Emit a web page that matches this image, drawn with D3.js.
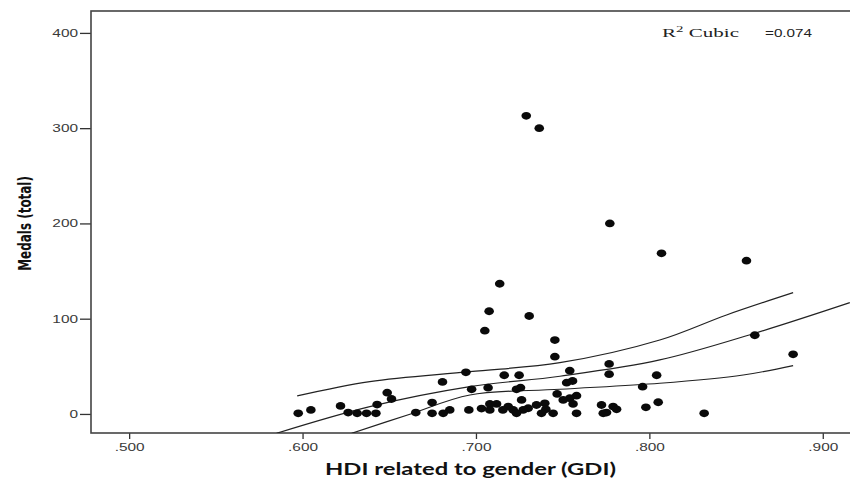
<!DOCTYPE html>
<html>
<head>
<meta charset="utf-8">
<script src="https://cdn.jsdelivr.net/npm/d3@7"></script>
<style>
  body { margin: 0; background: #fff; }
  svg { display: block; }
</style>
</head>
<body>
<div id="chart"></div>
<script>
// scatter points: GDI (x) and total medals (y)
const gdiValues = [
  0.729, 0.7365, 0.7772, 0.807, 0.856, 0.7137, 0.7076, 0.7307, 0.7051, 0.8608,
  0.7455, 0.8829, 0.7455, 0.7768, 0.7541, 0.6942, 0.7768, 0.7163, 0.7249, 0.8042,
  0.7557, 0.6807, 0.7523, 0.7961, 0.707, 0.7257, 0.6975, 0.7234, 0.6488, 0.7468,
  0.758, 0.7541, 0.6513, 0.7263, 0.7503, 0.8051, 0.6747, 0.7397, 0.643, 0.708,
  0.7119, 0.756, 0.7724, 0.7349, 0.6219, 0.7186, 0.7791, 0.798, 0.7301, 0.7032,
  0.7403, 0.7811, 0.6048, 0.6849, 0.6959, 0.708, 0.7155, 0.7215, 0.7272, 0.6263,
  0.6653, 0.7753, 0.5975, 0.6315, 0.6369, 0.6423, 0.6747, 0.6811, 0.7234, 0.7378,
  0.7445, 0.758, 0.7734, 0.8316
];
const medalValues = [
  313, 300, 200, 168.6, 160.9, 136.7, 107.8, 102.8, 87.4, 82.6,
  77.6, 62.6, 60.1, 52.5, 45.4, 43.7, 41.7, 40.6, 40.6, 40.6,
  34.6, 33.6, 32.8, 28.6, 27.6, 27.6, 25.9, 25.9, 22.3, 21,
  19.2, 16.5, 15.7, 14.7, 14.7, 12.3, 11.9, 11.2, 9.8, 10.5,
  10.5, 10.5, 9.4, 9.4, 8.4, 7.7, 7.7, 7, 6, 5.6,
  4.9, 4.9, 4.2, 4.2, 4.2, 4.2, 4.2, 4.2, 4.2, 1.4,
  1.4, 1.4, 0.7, 0.7, 0.7, 0.7, 0.7, 0.7, 0.7, 0.7,
  0.7, 0.7, 0.7, 0.7
];

// cubic fit and its confidence band
const fitGdi = [0.585, 0.6388, 0.6965, 0.7484, 0.806, 0.8608, 0.9156];
const fitMedals = [-20.3, 7.7, 28.6, 39.6, 56.7, 84.7, 116.8];
const upperGdi = [0.5969, 0.6388, 0.6965, 0.7484, 0.806, 0.8445, 0.8829];
const upperMedals = [18.9, 33.9, 44.4, 53.8, 77.6, 103.9, 127.3];
const lowerGdi = [0.6283, 0.6619, 0.6965, 0.7484, 0.806, 0.8541, 0.8829];
const lowerMedals = [-20.3, -0.3, 19.9, 25.9, 32.2, 40.9, 50.7];

const xTicks = [0.5, 0.6, 0.7, 0.8, 0.9];
const yTicks = [0, 100, 200, 300, 400];

const width = 850, height = 479;
const margin = { top: 11, right: 0, bottom: 46, left: 91 };
const stretch = 1.4; // the source picture is widened, so text is too

const svg = d3.select("#chart").append("svg")
    .attr("width", width)
    .attr("height", height);

const x = d3.scaleLinear()
    .domain([0.478, 0.9157])
    .range([margin.left, width - margin.right]);

const y = d3.scaleLinear()
    .domain([-20, 423])
    .range([height - margin.bottom, margin.top]);

svg.append("clipPath").attr("id", "plot-clip")
  .append("rect")
    .attr("x", margin.left)
    .attr("y", margin.top)
    .attr("width", width - margin.left)
    .attr("height", height - margin.bottom - margin.top);

// axes
const yAxis = d3.axisLeft(y).tickValues(yTicks).tickSize(11);
const xAxis = d3.axisBottom(x).tickValues(xTicks).tickSize(6).tickPadding(4)
    .tickFormat(d => d3.format(".3f")(d).replace(/^0/, ""));

const gy = svg.append("g")
    .attr("transform", `translate(${margin.left},0)`)
    .call(yAxis);
const gx = svg.append("g")
    .attr("transform", `translate(0,${height - margin.bottom})`)
    .call(xAxis);

[gx, gy].forEach(g => {
  g.select(".domain").remove();
  g.selectAll(".tick line").attr("stroke", "#333").attr("stroke-width", 1.3);
  g.selectAll(".tick text")
    .attr("fill", "#3a3a3a")
    .attr("transform", `scale(${stretch},1)`)
    .style("font-family", "'Liberation Sans', Arial, sans-serif")
    .style("font-size", "11px");
});
gy.selectAll(".tick text").attr("x", -13 / stretch);

// frame (right side runs off the page)
svg.append("rect")
    .attr("x", margin.left)
    .attr("y", margin.top)
    .attr("width", width - margin.left + 20)
    .attr("height", height - margin.bottom - margin.top)
    .attr("fill", "none")
    .attr("stroke", "#444")
    .attr("stroke-width", 1.6);

// fit lines
const plot = svg.append("g").attr("clip-path", "url(#plot-clip)");
const line = d3.line()
    .x(d => x(d[0]))
    .y(d => y(d[1]))
    .curve(d3.curveCatmullRom);

[[fitGdi, fitMedals], [upperGdi, upperMedals], [lowerGdi, lowerMedals]].forEach(([gs, ms]) => {
  plot.append("path")
      .datum(d3.zip(gs, ms))
      .attr("d", line)
      .attr("fill", "none")
      .attr("stroke", "#222")
      .attr("stroke-width", 1.2);
});

// points
plot.selectAll("ellipse")
    .data(d3.zip(gdiValues, medalValues))
    .join("ellipse")
    .attr("cx", d => x(d[0]))
    .attr("cy", d => y(d[1]))
    .attr("rx", 4.8)
    .attr("ry", 3.9)
    .attr("fill", "#0a0a0a");

// axis titles
svg.append("text")
    .attr("transform", `translate(25,${y(200)}) rotate(-90) scale(1,1.3)`)
    .attr("text-anchor", "middle")
    .attr("dy", "0.35em")
    .style("font-family", "'Liberation Sans Narrow', 'DejaVu Sans Condensed', sans-serif")
    .style("font-weight", "bold")
    .style("font-size", "13.3px")
    .attr("fill", "#111")
    .text("Medals (total)");

svg.append("text")
    .attr("transform", `translate(${(margin.left + width) / 2},475) scale(${stretch},1)`)
    .attr("text-anchor", "middle")
    .style("font-family", "Lato, sans-serif")
    .style("font-weight", "bold")
    .style("font-size", "17px")
    .attr("fill", "#111")
    .text("HDI related to gender (GDI)");

// R² label
const r2 = svg.append("text")
    .attr("x", 662)
    .attr("y", 37)
    .attr("textLength", 77)
    .attr("lengthAdjust", "spacingAndGlyphs")
    .attr("fill", "#222")
    .style("font-family", "'Liberation Serif', serif")
    .style("font-size", "12px");
r2.append("tspan").text("R");
r2.append("tspan").attr("dy", -5).style("font-size", "8.5px").text("2");
r2.append("tspan").attr("dy", 5).text(" Cubic");

svg.append("text")
    .attr("x", 765)
    .attr("y", 37)
    .attr("textLength", 47)
    .attr("lengthAdjust", "spacingAndGlyphs")
    .attr("fill", "#222")
    .style("font-family", "'Liberation Sans', Arial, sans-serif")
    .style("font-size", "11.5px")
    .text("=0.074");
</script>
</body>
</html>
